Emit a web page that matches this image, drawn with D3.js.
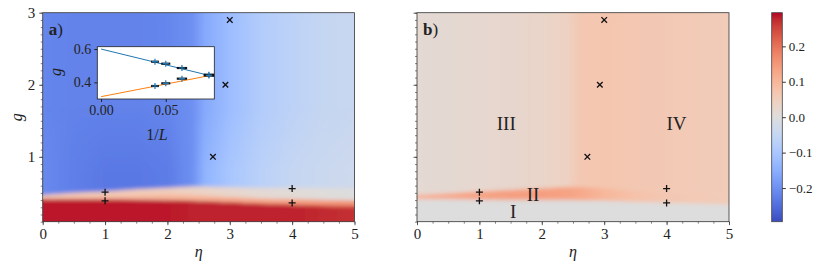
<!DOCTYPE html>
<html>
<head>
<meta charset="utf-8">
<script src="https://cdn.jsdelivr.net/npm/d3@7"></script>
<style>
  body { margin: 0; background: #fff; }
  text { font-family: "Liberation Serif", "DejaVu Serif", serif; fill: #222; }
</style>
</head>
<body>
<div id="chart"></div>
<script>
const etaGrid = [0, 0.5, 1, 1.5, 2, 2.4, 2.6, 3, 3.5, 4, 4.5, 5];

// panel a) boundaries (g) and colour values
const aRedTop    = [0.41, 0.41, 0.41, 0.405, 0.40, 0.39, 0.385, 0.37, 0.35, 0.335, 0.32, 0.31];
const aBandMid   = [0.44, 0.45, 0.46, 0.47, 0.48, 0.47, 0.46, 0.44, 0.42, 0.41, 0.40, 0.39];
const aBandTop   = [0.47, 0.50, 0.52, 0.55, 0.57, 0.59, 0.59, 0.58, 0.57, 0.57, 0.57, 0.57];
const aRed       = [0.285, 0.285, 0.285, 0.285, 0.285, 0.28, 0.28, 0.28, 0.28, 0.28, 0.275, 0.27];
const aBandLow   = [0.075, 0.08, 0.085, 0.09, 0.095, 0.10, 0.105, 0.12, 0.13, 0.14, 0.15, 0.16];
const aBandHigh  = [0.065, 0.065, 0.06, 0.055, 0.05, 0.04, 0.035, 0.025, 0.015, 0.01, 0.005, 0.0];
const aUpperLow  = [-0.21, -0.225, -0.235, -0.235, -0.23, -0.2, -0.14, -0.1, -0.07, -0.05, -0.04, -0.035];
const aUpperHigh = [-0.215, -0.22, -0.22, -0.22, -0.215, -0.2, -0.16, -0.12, -0.085, -0.065, -0.05, -0.045];

// panel b) boundaries (g) and colour values
const bGrayTop = [0.41, 0.41, 0.405, 0.40, 0.40, 0.40, 0.395, 0.39, 0.375, 0.36, 0.35, 0.335];
const bBandTop = [0.47, 0.49, 0.52, 0.54, 0.56, 0.58, 0.58, 0.56, 0.53, 0.50, 0.47, 0.45];
const bGray    = [0.0, 0.0, 0.0, 0.0, 0.0, 0.0, 0.0, 0.0, 0.0, 0.0, 0.0, 0.0];
const bBand    = [0.11, 0.125, 0.135, 0.14, 0.14, 0.135, 0.125, 0.10, 0.078, 0.066, 0.06, 0.056];
const bUpper   = [0.015, 0.017, 0.02, 0.024, 0.03, 0.04, 0.065, 0.07, 0.066, 0.062, 0.058, 0.055];

// markers
const plusEta  = [1, 1, 4, 4];
const plusG    = [0.51, 0.39, 0.56, 0.36];
const crossEta = [3.0, 2.93, 2.73];
const crossG   = [2.9, 2.0, 1.0];

// region labels of panel b)
const regionNames = ["I", "II", "III", "IV"];
const regionEta   = [1.54, 1.86, 1.43, 4.16];
const regionG     = [0.24, 0.475, 1.47, 1.47];

// inset data
const invL      = [1 / 24, 1 / 20, 1 / 16, 1 / 12];
const gUpper    = [0.524, 0.512, 0.486, 0.446];
const gLower    = [0.378, 0.394, 0.422, 0.441];
const errInvL   = [0.003, 0.0035, 0.004, 0.004];
const fitX      = [0, 0.0875];
const fitUpperG = [0.600, 0.434];
const fitLowerG = [0.314, 0.446];

// colour bar ticks
const cbTicks = [-0.2, -0.1, 0.0, 0.1, 0.2];
const vmin = -0.295, vmax = 0.295;

// coolwarm (Moreland) control colours
const coolwarm = [
  [59,76,192],[68,90,204],[77,104,215],[87,117,225],[98,130,234],[108,142,241],
  [119,154,247],[130,165,251],[141,176,254],[152,185,255],[163,194,255],[174,201,253],
  [184,208,249],[194,213,244],[204,217,238],[213,219,230],[221,221,221],[229,216,209],
  [236,211,197],[241,204,185],[245,196,173],[247,187,160],[247,177,148],[247,166,135],
  [244,154,123],[241,141,111],[236,127,99],[229,112,88],[222,96,77],[213,80,66],
  [203,62,56],[192,40,47],[180,4,38]
];
const color = d3.scaleLinear()
  .domain(coolwarm.map((c, i) => vmin + (vmax - vmin) * i / (coolwarm.length - 1)))
  .range(coolwarm.map(c => `rgb(${c[0]},${c[1]},${c[2]})`))
  .interpolate(d3.interpolateRgb)
  .clamp(true);

const width = 830, height = 272;
const svg = d3.select("#chart").append("svg")
  .attr("width", width).attr("height", height);
const defs = svg.append("defs");

const yScale = d3.scaleLinear().domain([0.1, 3]).range([221.7, 12.7]);
const xA = d3.scaleLinear().domain([0, 5]).range([42.7, 354.5]);
const xB = d3.scaleLinear().domain([0, 5]).range([417, 729]);

let gradId = 0;
function hGradient(x, values) {
  const id = "hg" + (gradId++);
  const grad = defs.append("linearGradient").attr("id", id)
    .attr("gradientUnits", "userSpaceOnUse")
    .attr("x1", x(0)).attr("x2", x(5)).attr("y1", 0).attr("y2", 0);
  grad.selectAll("stop").data(etaGrid).enter().append("stop")
    .attr("offset", d => d / 5)
    .attr("stop-color", (d, i) => color(values[i]));
  return "url(#" + id + ")";
}

function band(g, x, lower, upper, values) {
  const area = d3.area()
    .x((d, i) => x(etaGrid[i]))
    .y0((d, i) => yScale(lower[i]))
    .y1((d, i) => yScale(upper[i]));
  g.append("path").datum(etaGrid).attr("d", area).attr("fill", hGradient(x, values));
}

const gMin = etaGrid.map(() => 0.1);
const gMax = etaGrid.map(() => 3);

function clipFor(x, id) {
  defs.append("clipPath").attr("id", id).append("rect")
    .attr("x", x(0)).attr("y", yScale(3))
    .attr("width", x(5) - x(0)).attr("height", yScale(0.1) - yScale(3));
}
clipFor(xA, "clipA");
clipFor(xB, "clipB");

// soft edges between the phases
defs.append("filter").attr("id", "soft")
  .attr("x", "-5%").attr("y", "-5%").attr("width", "110%").attr("height", "110%")
  .append("feGaussianBlur").attr("stdDeviation", "1.2 2.2");

// vertical fade used for the lower part of the upper phase in a)
const fade = defs.append("linearGradient").attr("id", "vfade")
  .attr("gradientUnits", "userSpaceOnUse")
  .attr("x1", 0).attr("x2", 0).attr("y1", yScale(0.8)).attr("y2", yScale(1.7));
fade.append("stop").attr("offset", 0).attr("stop-color", "#fff");
fade.append("stop").attr("offset", 1).attr("stop-color", "#000");
defs.append("mask").attr("id", "fadeMask").attr("maskUnits", "userSpaceOnUse")
  .append("rect").attr("x", 0).attr("y", 0).attr("width", width).attr("height", height)
  .attr("fill", "url(#vfade)");

function drawMapA(g) {
  band(g, xA, aBandTop, gMax, aUpperHigh);
  band(g.append("g").attr("mask", "url(#fadeMask)"), xA, aBandTop, gMax, aUpperLow);
  band(g, xA, aBandMid, aBandTop, aBandHigh);
  band(g, xA, aRedTop, aBandMid, aBandLow);
  band(g, xA, gMin, aRedTop, aRed);
}
function drawMapB(g) {
  band(g, xB, bBandTop, gMax, bUpper);
  band(g, xB, bGrayTop, bBandTop, bBand);
  band(g, xB, gMin, bGrayTop, bGray);
}

// ---- heat maps: crisp layer, then a blurred copy on top
const mapA = svg.append("g").attr("clip-path", "url(#clipA)");
drawMapA(mapA.append("g"));
drawMapA(mapA.append("g").attr("filter", "url(#soft)"));
const mapB = svg.append("g").attr("clip-path", "url(#clipB)");
drawMapB(mapB.append("g"));
drawMapB(mapB.append("g").attr("filter", "url(#soft)"));

// ---- axes
const tickFont = "'Liberation Serif', serif";
function drawAxes(x, showYLabels) {
  const minorX = d3.range(0, 5.001, 0.25);
  const minorY = d3.range(0.1, 3.001, 0.1);
  svg.append("g").attr("transform", `translate(0,${yScale(0.1)})`)
    .call(d3.axisBottom(x).tickValues(minorX).tickSize(2).tickFormat(""))
    .call(g => g.select(".domain").remove())
    .call(g => g.selectAll("line").attr("stroke", "#333").attr("stroke-width", 0.6));
  svg.append("g").attr("transform", `translate(${x(0)},0)`)
    .call(d3.axisLeft(yScale).tickValues(minorY).tickSize(2).tickFormat(""))
    .call(g => g.select(".domain").remove())
    .call(g => g.selectAll("line").attr("stroke", "#333").attr("stroke-width", 0.6));
  svg.append("g").attr("transform", `translate(0,${yScale(0.1)})`)
    .call(d3.axisBottom(x).tickValues([0, 1, 2, 3, 4, 5]).tickSize(3.5).tickPadding(3).tickFormat(d3.format("d")))
    .call(g => g.select(".domain").remove())
    .call(g => g.selectAll("line").attr("stroke", "#333").attr("stroke-width", 0.8))
    .call(g => g.selectAll("text").style("font-size", "15px")
      .style("font-family", tickFont).attr("fill", "#333"));
  svg.append("g").attr("transform", `translate(${x(0)},0)`)
    .call(d3.axisLeft(yScale).tickValues([1, 2, 3]).tickSize(3.5).tickPadding(4)
      .tickFormat(showYLabels ? d3.format("d") : ""))
    .call(g => g.select(".domain").remove())
    .call(g => g.selectAll("line").attr("stroke", "#333").attr("stroke-width", 0.8))
    .call(g => g.selectAll("text").style("font-size", "15px")
      .style("font-family", tickFont).attr("fill", "#333"));
  svg.append("rect")
    .attr("x", x(0)).attr("y", yScale(3))
    .attr("width", x(5) - x(0)).attr("height", yScale(0.1) - yScale(3))
    .attr("fill", "none").attr("stroke", "#333").attr("stroke-width", 0.8);
  svg.append("text")
    .attr("x", (x(0) + x(5)) / 2).attr("y", 257)
    .attr("text-anchor", "middle")
    .style("font-size", "16px").style("font-style", "italic")
    .text("η");
}
drawAxes(xA, true);
drawAxes(xB, false);

svg.append("text")
  .attr("transform", `translate(22,${(yScale(0.1) + yScale(3)) / 2}) rotate(-90)`)
  .attr("text-anchor", "middle")
  .style("font-size", "16px").style("font-style", "italic")
  .text("g");

// panel letters
[[xA, "a"], [xB, "b"]].forEach(([x, l]) => {
  const t = svg.append("text").attr("x", x(0) + 6).attr("y", 35).style("font-size", "17px");
  t.append("tspan").style("font-weight", "bold").text(l);
  t.append("tspan").text(")");
});

// ---- markers
const plusPath = "M-3.5,0H3.5M0,-3.5V3.5";
const crossPath = "M-2.8,-2.8L2.8,2.8M-2.8,2.8L2.8,-2.8";
[xA, xB].forEach(x => {
  svg.append("g").selectAll("path").data(plusEta).enter().append("path")
    .attr("transform", (d, i) => `translate(${x(d)},${yScale(plusG[i])})`)
    .attr("d", plusPath).attr("stroke", "#111").attr("stroke-width", 1.3).attr("fill", "none");
  svg.append("g").selectAll("path").data(crossEta).enter().append("path")
    .attr("transform", (d, i) => `translate(${x(d)},${yScale(crossG[i])})`)
    .attr("d", crossPath).attr("stroke", "#111").attr("stroke-width", 1.3).attr("fill", "none");
});

svg.append("g").selectAll("text").data(regionNames).enter().append("text")
  .attr("x", (d, i) => xB(regionEta[i])).attr("y", (d, i) => yScale(regionG[i]))
  .attr("text-anchor", "middle").attr("dy", "0.35em")
  .style("font-size", "19px").attr("fill", "#222")
  .text(d => d);

// ---- inset in a)
const ix = d3.scaleLinear().domain([-0.0029, 0.0875]).range([97.3, 214.3]);
const iy = d3.scaleLinear().domain([0.30, 0.614]).range([99, 46.7]);
const inset = svg.append("g");
inset.append("rect").attr("x", 97.3).attr("y", 46.7)
  .attr("width", 117).attr("height", 52.3).attr("fill", "#fff");
const line = d3.line().x((d, i) => ix(fitX[i])).y(d => iy(d));
inset.append("path").datum(fitUpperG).attr("d", line)
  .attr("stroke", "#1f77b4").attr("stroke-width", 1).attr("fill", "none");
inset.append("path").datum(fitLowerG).attr("d", line)
  .attr("stroke", "#ff7f0e").attr("stroke-width", 1).attr("fill", "none");
[gUpper, gLower].forEach(gs => {
  inset.append("g").selectAll("line").data(invL).enter().append("line")
    .attr("x1", (d, i) => ix(d - errInvL[i])).attr("x2", (d, i) => ix(d + errInvL[i]))
    .attr("y1", (d, i) => iy(gs[i])).attr("y2", (d, i) => iy(gs[i]))
    .attr("stroke", "#111").attr("stroke-width", 2.2);
  inset.append("g").selectAll("path").data(invL).enter().append("path")
    .attr("transform", (d, i) => `translate(${ix(d)},${iy(gs[i])})`)
    .attr("d", "M-3,0H3M0,-3V3").attr("stroke", "#1f77b4").attr("stroke-width", 1.2);
});
inset.append("rect").attr("x", 97.3).attr("y", 46.7)
  .attr("width", 117).attr("height", 52.3).attr("fill", "none")
  .attr("stroke", "#222").attr("stroke-width", 0.8);
inset.append("g").attr("transform", "translate(0,99)")
  .call(d3.axisBottom(ix).tickValues([0, 0.05]).tickSize(3).tickPadding(3).tickFormat(d3.format(".2f")))
  .call(g => g.select(".domain").remove())
  .call(g => g.selectAll("line").attr("stroke", "#222"))
  .call(g => g.selectAll("text").style("font-size", "14px")
    .style("font-family", tickFont).attr("fill", "#333"));
inset.append("g").attr("transform", "translate(97.3,0)")
  .call(d3.axisLeft(iy).tickValues([0.4, 0.6]).tickSize(3).tickPadding(3).tickFormat(d3.format(".1f")))
  .call(g => g.select(".domain").remove())
  .call(g => g.selectAll("line").attr("stroke", "#222"))
  .call(g => g.selectAll("text").style("font-size", "14px")
    .style("font-family", tickFont).attr("fill", "#333"));
inset.append("text").attr("x", 157).attr("y", 140)
  .attr("text-anchor", "middle").style("font-size", "16px")
  .html('1/<tspan font-style="italic">L</tspan>');
inset.append("text")
  .attr("transform", "translate(61,72) rotate(-90)")
  .attr("text-anchor", "middle").style("font-size", "16px").style("font-style", "italic")
  .text("g");

// ---- colour bar
const cy = d3.scaleLinear().domain([vmin, vmax]).range([221.7, 12.7]);
const cbGrad = defs.append("linearGradient").attr("id", "cbGrad")
  .attr("x1", 0).attr("x2", 0).attr("y1", 1).attr("y2", 0);
cbGrad.selectAll("stop").data(coolwarm).enter().append("stop")
  .attr("offset", (d, i) => i / (coolwarm.length - 1))
  .attr("stop-color", d => `rgb(${d[0]},${d[1]},${d[2]})`);
svg.append("rect").attr("x", 771.7).attr("y", cy(vmax))
  .attr("width", 10.6).attr("height", cy(vmin) - cy(vmax))
  .attr("fill", "url(#cbGrad)").attr("stroke", "#444").attr("stroke-width", 0.8);
svg.append("g").attr("transform", "translate(782.3,0)")
  .call(d3.axisRight(cy).tickValues(cbTicks).tickSize(3.5).tickPadding(3)
    .tickFormat(d => d3.format(".1f")(d).replace("-", "−")))
  .call(g => g.select(".domain").remove())
  .call(g => g.selectAll("line").attr("stroke", "#333"))
  .call(g => g.selectAll("text").style("font-size", "13px")
    .style("font-family", tickFont).attr("fill", "#333"));
</script>
</body>
</html>
